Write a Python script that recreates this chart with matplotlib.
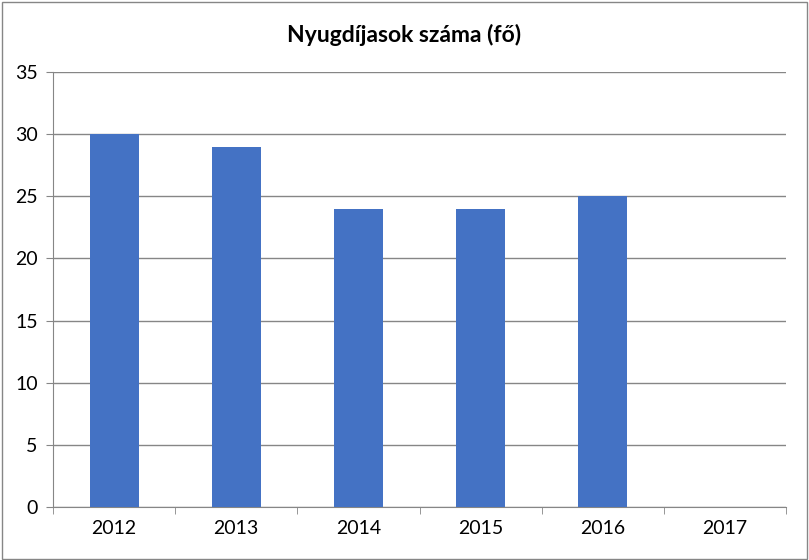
import matplotlib.pyplot as plt
from matplotlib.patches import Rectangle

plt.rcParams['font.family'] = ['Lato', 'DejaVu Sans']

years = ["2012", "2013", "2014", "2015", "2016", "2017"]
pensioners = [30, 29, 24, 24, 25, 0]

fig = plt.figure(figsize=(8.09, 5.6), dpi=100)
ax = fig.add_axes([0.0655, 0.0946, 0.9061, 0.7768])

x = list(range(len(years)))
ax.bar(x, pensioners, width=0.4, color="#4472C4", zorder=3)

ax.set_xlim(-0.5, len(years) - 0.5)
ax.set_ylim(0, 35)
ax.set_yticks(range(0, 36, 5))
ax.grid(axis="y", color="#868686", linewidth=1, zorder=0)

ax.set_xticks(x)
ax.set_xticklabels(years)
ax.set_xticks([i - 0.5 for i in range(len(years) + 1)], minor=True)
ax.tick_params(axis="x", which="major", length=0, pad=9, labelsize=14)
ax.tick_params(axis="x", which="minor", length=5, color="#868686")
ax.tick_params(axis="y", length=5, color="#868686", labelsize=14, pad=6)

for side in ["top", "right"]:
    ax.spines[side].set_visible(False)
ax.spines["left"].set_color("#868686")
ax.spines["bottom"].set_color("#868686")

# title sits centred on the whole figure, not on the axes
fig.text(0.5, 1 - 35 / 560, "Nyugdíjasok száma (fő)", fontsize=16.5,
         fontweight="bold", ha="center", va="center")

fig.patches.append(Rectangle((0.002, 0.002), 0.995, 0.995, transform=fig.transFigure,
                             fill=False, edgecolor="#868686", linewidth=1))

fig.savefig("out.png", dpi=100)
